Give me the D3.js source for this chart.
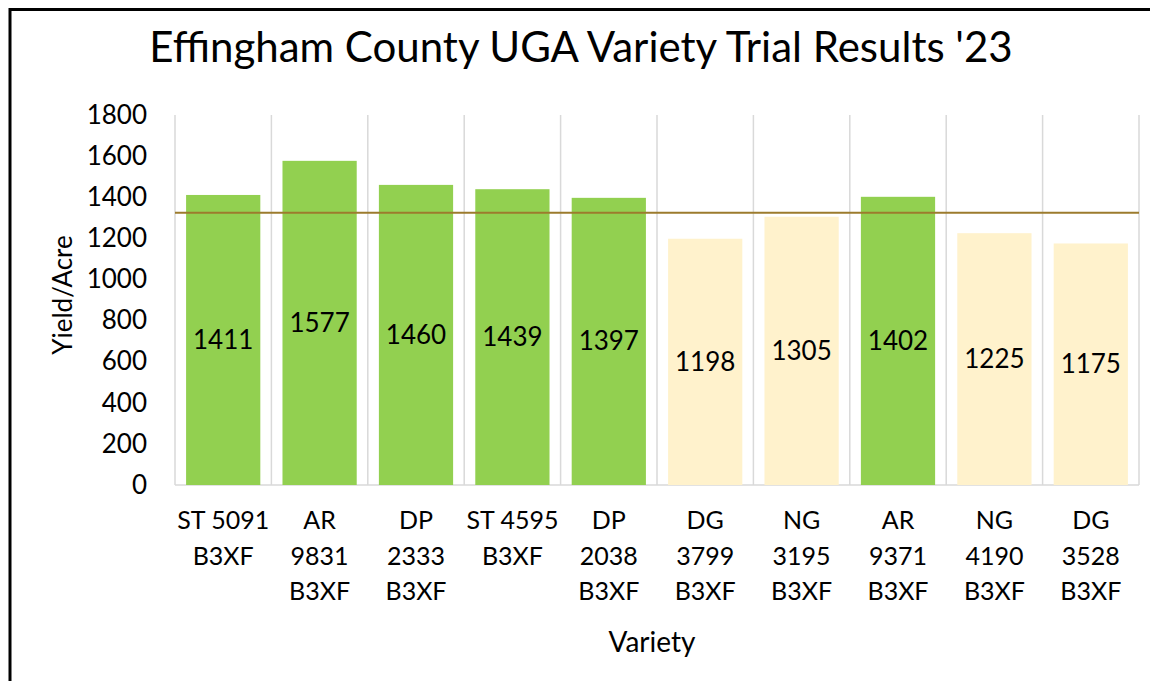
<!DOCTYPE html>
<html>
<head>
<meta charset="utf-8">
<script src="https://cdn.jsdelivr.net/npm/d3@7"></script>
<style>
  body { margin: 0; background: #fff; }
  svg { display: block; font-family: Lato, "Open Sans", sans-serif; }
</style>
</head>
<body>
<svg id="chart" width="1150" height="681"></svg>
<script>
// Data
const varieties = ['ST 5091 B3XF', 'AR 9831 B3XF', 'DP 2333 B3XF', 'ST 4595 B3XF', 'DP 2038 B3XF',
  'DG 3799 B3XF', 'NG 3195 B3XF', 'AR 9371 B3XF', 'NG 4190 B3XF', 'DG 3528 B3XF'];
const tickLines = [
  ['ST 5091', 'B3XF'], ['AR', '9831', 'B3XF'], ['DP', '2333', 'B3XF'], ['ST 4595', 'B3XF'],
  ['DP', '2038', 'B3XF'], ['DG', '3799', 'B3XF'], ['NG', '3195', 'B3XF'], ['AR', '9371', 'B3XF'],
  ['NG', '4190', 'B3XF'], ['DG', '3528', 'B3XF']
];
const yields = [1411, 1577, 1460, 1439, 1397, 1198, 1305, 1402, 1225, 1175];
const yTicks = [0, 200, 400, 600, 800, 1000, 1200, 1400, 1600, 1800];
const trialAverage = 1325;

const data = varieties.map((v, i) => ({ variety: v, lines: tickLines[i], value: yields[i] }));

const svg = d3.select('#chart');
const margin = { top: 115, right: 11, bottom: 196, left: 175 };
const width = +svg.attr('width');
const height = +svg.attr('height');

// frame (top and left edges only)
svg.append('line').attr('x1', 10).attr('x2', width).attr('y1', 9.5).attr('y2', 9.5)
  .attr('stroke', '#000').attr('stroke-width', 3);
svg.append('line').attr('x1', 10).attr('x2', 10).attr('y1', 8).attr('y2', height)
  .attr('stroke', '#000').attr('stroke-width', 3);

// scales in page coordinates
const x = d3.scaleBand().domain(varieties).range([margin.left, width - margin.right])
  .paddingInner(0.23).paddingOuter(0.115);
const y = d3.scaleLinear().domain([0, 1800]).range([height - margin.bottom, margin.top]);
const cx = d => x(d.variety) + x.bandwidth() / 2;

// vertical gridlines at category boundaries
const step = x.step();
const x0 = margin.left;
svg.selectAll('.vgrid').data(d3.range(varieties.length + 1)).join('line')
  .attr('class', 'vgrid')
  .attr('x1', i => x0 + i * step).attr('x2', i => x0 + i * step)
  .attr('y1', y(1800)).attr('y2', y(0))
  .attr('stroke', '#d9d9d9').attr('stroke-width', 1.5);

// baseline
svg.append('line').attr('x1', x0).attr('x2', width - margin.right).attr('y1', y(0)).attr('y2', y(0))
  .attr('stroke', '#d9d9d9').attr('stroke-width', 1.5);

// bars
svg.selectAll('.bar').data(data).join('rect')
  .attr('class', 'bar')
  .attr('x', d => x(d.variety))
  .attr('y', d => y(d.value))
  .attr('width', x.bandwidth())
  .attr('height', d => y(0) - y(d.value))
  .attr('fill', d => d.value > trialAverage ? '#92d050' : '#fff2cc');

// average line
svg.append('line').attr('x1', x0).attr('x2', width - margin.right)
  .attr('y1', y(trialAverage)).attr('y2', y(trialAverage))
  .attr('stroke', '#9c7b2d').attr('stroke-width', 2);

// data labels
svg.selectAll('.val').data(data).join('text')
  .attr('class', 'val')
  .attr('x', cx)
  .attr('y', d => (y(0) + y(d.value)) / 2 + 9)
  .attr('text-anchor', 'middle')
  .attr('font-size', 26)
  .attr('fill', '#000')
  .text(d => d.value);

// y axis labels
const yAxis = svg.append('g')
  .attr('transform', `translate(${margin.left},0)`)
  .call(d3.axisLeft(y).tickValues(yTicks).tickFormat(d3.format('d')).tickSize(0).tickPadding(28));
yAxis.select('.domain').remove();
yAxis.selectAll('text').attr('font-size', 26).attr('font-family', 'Lato, "Open Sans", sans-serif')
  .attr('fill', '#000');

// x tick labels (wrapped, one text per line)
const xLabelRows = data.flatMap(d => d.lines.map((line, i) => ({ d, line, i })));
svg.selectAll('.xl').data(xLabelRows).join('text')
  .attr('class', 'xl')
  .attr('x', r => cx(r.d))
  .attr('y', r => y(0) + 44 + r.i * 35.5)
  .attr('text-anchor', 'middle')
  .attr('font-size', 25)
  .attr('fill', '#000')
  .text(r => r.line);

// axis titles
svg.append('text')
  .attr('x', 652).attr('y', 652)
  .attr('text-anchor', 'middle')
  .attr('font-size', 28)
  .text('Variety');

svg.append('text')
  .attr('x', 72).attr('y', 295)
  .attr('transform', 'rotate(-90,72,295)')
  .attr('text-anchor', 'middle')
  .attr('font-size', 26)
  .text('Yield/Acre');

// title
svg.append('text')
  .attr('x', 581).attr('y', 62)
  .attr('text-anchor', 'middle')
  .attr('font-size', 42)
  .text("Effingham County UGA Variety Trial Results '23");
</script>
</body>
</html>
